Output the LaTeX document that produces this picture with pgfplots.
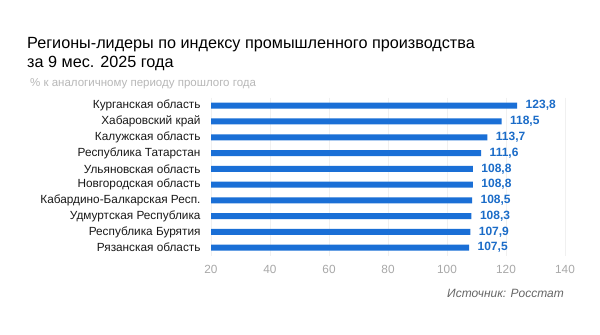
\documentclass[border=0pt]{standalone}
\usepackage{pgfplots}
\pgfplotsset{compat=1.18}
\usepackage{fontspec}
\setmainfont{Liberation Sans}
\definecolor{barblue}{HTML}{1A6FD6}
\definecolor{valblue}{HTML}{1B6CC8}
\definecolor{ticgray}{HTML}{A8A8A8}
\definecolor{subgray}{HTML}{B8B8B8}
\begin{document}
\begin{tikzpicture}
\useasboundingbox (0,0) rectangle (600bp,-335bp);
\fill[white] (0,0) rectangle (600bp,-335bp);
\node[anchor=base west, inner sep=0, font=\fontsize{16.2bp}{19bp}\selectfont, text=black] at (27bp,-48bp) {Регионы-лидеры по индексу промышленного производства};
\node[anchor=base west, inner sep=0, font=\fontsize{16.2bp}{19bp}\selectfont, text=black] at (27bp,-67bp) {за 9 мес. 2025 года};
\node[anchor=base west, inner sep=0, font=\fontsize{11.5bp}{13bp}\selectfont, text=subgray] at (30bp,-86bp) {\% к аналогичному периоду прошлого года};
\node[anchor=base east, inner sep=0, font=\fontsize{12bp}{14bp}\selectfont\itshape, text=black!60] at (564bp,-297bp) {Источник: Росстат};
\begin{axis}[
  at={(211bp,-255.6bp)}, anchor=south west,
  scale only axis, width=354bp, height=157.8bp,
  xbar, bar width=6bp, bar shift=0pt,
  xmin=20, xmax=140,
  ymin=-0.5, ymax=9.5, y dir=reverse,
  xtick={20,40,60,80,100,120,140},
  ytick={0,...,9},
  yticklabels={Курганская область, Хабаровский край, Калужская область, Республика Татарстан, Ульяновская область, Новгородская область, Кабардино-Балкарская Респ., Удмуртская Республика, Республика Бурятия, Рязанская область},
  axis line style={draw=none},
  major tick length=0pt,
  xmajorgrids, grid style={black!6},
  tick label style={font=\fontsize{11.8bp}{13bp}\selectfont},
  yticklabel style={text=black!90, xshift=-7bp},
  xticklabel style={text=ticgray, yshift=-6bp},
  /pgf/number format/assume math mode=true,
  nodes near coords,
  nodes near coords style={font=\fontsize{12bp}{13bp}\selectfont\bfseries, text=valblue, anchor=west, xshift=5bp,
    /pgf/number format/.cd, fixed, fixed zerofill, precision=1, use comma},
  clip=true,
]
\addplot[fill=barblue, draw=none] coordinates {
(123.8,0) (118.5,1) (113.7,2) (111.6,3) (108.8,4) (108.8,5) (108.5,6) (108.3,7) (107.9,8) (107.5,9)
};
\end{axis}
\end{tikzpicture}
\end{document}
